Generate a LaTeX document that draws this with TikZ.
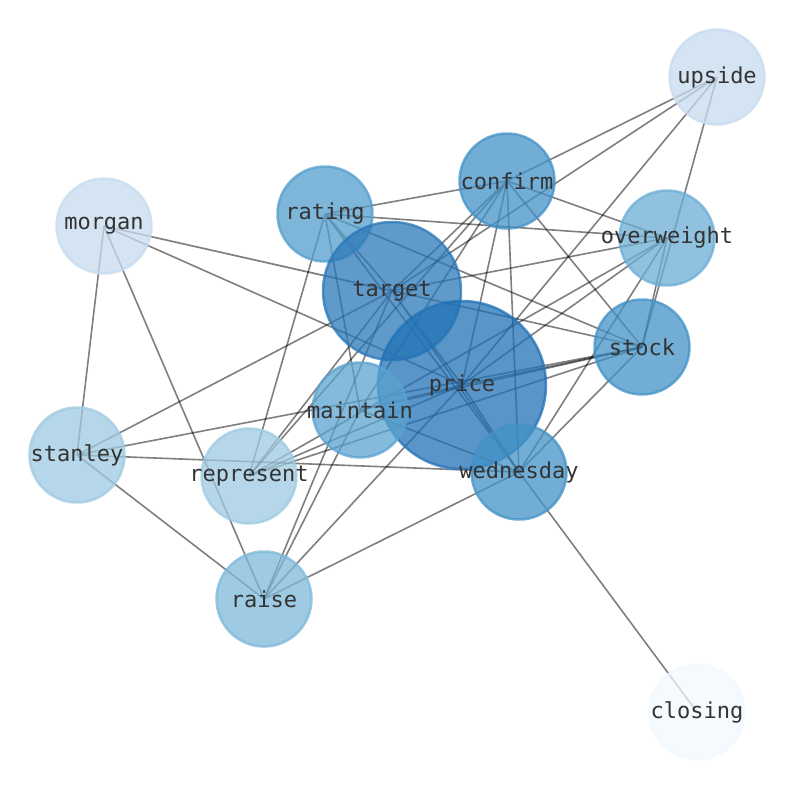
\documentclass[tikz,border=0pt]{standalone}
\usepackage{fontspec}
\newfontfamily\wordfont{DejaVu Sans Mono}
\usepackage{tikz}
\usetikzlibrary{backgrounds}

\definecolor{bluePrice}{HTML}{2171B5}
\definecolor{blueTarget}{HTML}{2A78B8}
\definecolor{blueHigh}{HTML}{4292C6}
\definecolor{blueRating}{HTML}{539ECD}
\definecolor{blueMaint}{HTML}{5BA3D0}
\definecolor{blueOver}{HTML}{6BAED6}
\definecolor{blueRaise}{HTML}{7DB8DA}
\definecolor{blueMid}{HTML}{9ECAE1}
\definecolor{blueLow}{HTML}{C6DBEF}
\definecolor{blueMin}{HTML}{F2F8FE}

% label that does not widen the circle
\newcommand{\wlab}[1]{\makebox[0pt]{#1}}

\begin{document}
\begin{tikzpicture}[
    % GLOBAL CFG
    x=1pt, y=-1pt,
    font=\wordfont\fontsize{22}{24}\selectfont,
    % Styles
    word/.style={% For every word of the graph
        circle,
        line width=2.5pt,
        fill opacity=0.75,
        draw opacity=0.75,
        text opacity=1,
        text=black!80,
        inner sep=0pt,
        minimum size=95pt,
        },
    big/.style={% For target
        word,
        minimum size=138pt,
        },
    huge/.style={% For price
        word,
        minimum size=168pt,
        },
    edge/.style={% For the links between words
        draw=black,
        draw opacity=0.5,
        line width=1.6pt,
        },
    ]

    \useasboundingbox (0,0) rectangle (794,790);

    % Draw the words
    \node [word, fill=blueLow, draw=blueLow] (upside) at (717,77) {\wlab{upside}};
    \node [word, fill=blueHigh, draw=blueHigh] (confirm) at (507,181) {\wlab{confirm}};
    \node [word, fill=blueRating, draw=blueRating] (rating) at (325,214) {\wlab{rating}};
    \node [word, fill=blueLow, draw=blueLow] (morgan) at (104,226) {\wlab{morgan}};
    \node [word, fill=blueOver, draw=blueOver] (overweight) at (667,238) {\wlab{overweight}};
    \node [big, fill=blueTarget, draw=blueTarget] (target) at (392,291) {\wlab{target}};
    \node [word, fill=blueHigh, draw=blueHigh] (stock) at (642,347) {\wlab{stock}};
    \node [huge, fill=bluePrice, draw=bluePrice] (price) at (462,385) {\wlab{price}};
    \node [word, fill=blueMaint, draw=blueMaint] (maintain) at (360,410) {\wlab{maintain}};
    \node [word, fill=blueMid, draw=blueMid] (stanley) at (77,455) {\wlab{stanley}};
    \node [word, fill=blueMid, draw=blueMid] (represent) at (249,476) {\wlab{represent}};
    \node [word, fill=blueHigh, draw=blueHigh] (wednesday) at (519,472) {\wlab{wednesday}};
    \node [word, fill=blueRaise, draw=blueRaise] (raise) at (264,599) {\wlab{raise}};
    \node [word, fill=blueMin, draw=blueMin] (closing) at (697,712) {\wlab{closing}};

    % Links go behind the words
    \begin{pgfonlayer}{background}
    \draw [edge] (upside.center) -- (confirm.center) (upside.center) -- (target.center)
        (upside.center) -- (price.center) (upside.center) -- (stock.center);
    \draw [edge] (closing.center) -- (wednesday.center);
    \draw [edge] (morgan.center) -- (stanley.center) (morgan.center) -- (raise.center)
        (morgan.center) -- (target.center) (morgan.center) -- (price.center)
        (morgan.center) -- (stock.center);
    \draw [edge] (rating.center) -- (confirm.center) (rating.center) -- (overweight.center)
        (rating.center) -- (stock.center) (rating.center) -- (represent.center)
        (rating.center) -- (maintain.center) (rating.center) -- (target.center)
        (rating.center) -- (wednesday.center);
    \draw [edge] (confirm.center) -- (overweight.center) (confirm.center) -- (stock.center)
        (confirm.center) -- (wednesday.center) (confirm.center) -- (price.center)
        (confirm.center) -- (target.center) (confirm.center) -- (represent.center)
        (confirm.center) -- (maintain.center);
    \draw [edge] (stanley.center) -- (target.center) (stanley.center) -- (wednesday.center)
        (stanley.center) -- (stock.center) (stanley.center) -- (raise.center);
    \draw [edge] (target.center) -- (overweight.center) (target.center) -- (wednesday.center)
        (target.center) -- (represent.center) (target.center) -- (raise.center)
        (target.center) -- (price.center);
    \draw [edge] (maintain.center) -- (wednesday.center) (maintain.center) -- (raise.center)
        (maintain.center) -- (stock.center) (maintain.center) -- (price.center);
    \draw [edge] (raise.center) -- (price.center) (raise.center) -- (wednesday.center);
    \draw [edge] (overweight.center) -- (stock.center) (overweight.center) -- (wednesday.center)
        (overweight.center) -- (price.center) (overweight.center) -- (represent.center);
    \draw [edge] (represent.center) -- (price.center) (represent.center) -- (stock.center);
    \draw [edge] (stock.center) -- (price.center) (stock.center) -- (wednesday.center)
        (price.center) -- (wednesday.center);
    \end{pgfonlayer}

\end{tikzpicture}
\end{document}
